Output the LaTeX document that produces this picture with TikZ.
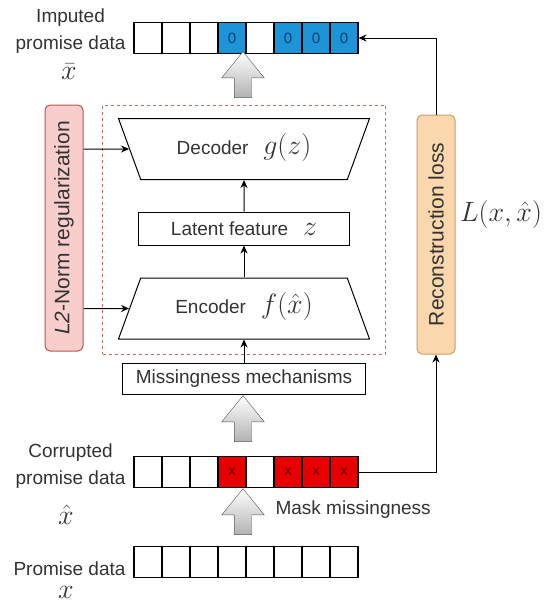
\documentclass[tikz,border=0pt]{standalone}
\usepackage{fix-cm}
\usepackage{amsmath}
\usepackage{fontspec}
\setmainfont{Liberation Sans}
\usepackage{tikz}
\usetikzlibrary{shapes.geometric,shapes.arrows,arrows.meta}

\definecolor{txt}{HTML}{333333}
\definecolor{cellblue}{HTML}{1B94D8}
\definecolor{cellred}{HTML}{E80000}
\definecolor{l2fill}{HTML}{F8CECC}
\definecolor{l2line}{HTML}{B85450}
\definecolor{recfill}{HTML}{FAD7AC}
\definecolor{recline}{HTML}{C9A063}
\definecolor{dashred}{HTML}{C86464}

\newcommand{\mth}[1]{{\fontsize{20.74}{24}\selectfont\scalebox{1.35}{$#1$}}}

\begin{document}
\begin{tikzpicture}[x=1pt,y=-1pt]
        \tikzstyle{every node} = [font=\fontsize{19}{27}\selectfont, text=txt]
        \tikzstyle{cell} = [draw=black, line width=1.1pt, minimum width=28, minimum height=31, inner sep=0, font=\fontsize{15}{16}\selectfont, text=black, text opacity=0.55]
        \tikzstyle{box} = [draw=black, line width=1pt]
        \tikzstyle{trap} = [box, trapezium, trapezium angle=70, trapezium stretches body, minimum width=251, text height=15, text depth=5, inner xsep=0, inner ysep=20.5]
        \tikzstyle{side} = [line width=1pt, rounded corners=5, rotate=90, minimum height=38, inner sep=0, font=\fontsize{21}{24}\selectfont]
        \tikzstyle{bigarrow} = [single arrow, draw=gray!70!black, top color=white, bottom color=gray!60, shape border rotate=90, minimum height=46, single arrow head extend=12.5, single arrow tip angle=78, inner sep=8.5]
        \tikzstyle{link} = [-{Stealth[length=8pt,width=7pt]}, line width=1pt]
        \useasboundingbox (0,0) rectangle (544,605);
        \foreach \i/\col/\lab in {1/white/{},2/white/{},3/white/{},4/cellblue/0,5/white/{},6/cellblue/0,7/cellblue/0,8/cellblue/0}
            \node[cell, fill=\col] (t\i) at ({120+28*\i},38) {\lab};
        \foreach \i/\col/\lab in {1/white/{},2/white/{},3/white/{},4/cellred/x,5/white/{},6/cellred/x,7/cellred/x,8/cellred/x}
            \node[cell, fill=\col] (c\i) at ({120+28*\i},472) {\lab};
        \foreach \i in {1,...,8}
            \node[cell] (p\i) at ({120+28*\i},562) {};
        \node[anchor=east, align=center] (imp) at (129,31) {Imputed\\promise data};
        \node (xbar) at (69,72) {\mth{\bar{x}}};
        \node[anchor=east, align=center] (cor) at (129,466) {Corrupted\\promise data};
        \node (xhat) at (66,515) {\mth{\hat{x}}};
        \node[anchor=east] (prom) at (129,569) {Promise data};
        \node (xin) at (66,592) {\mth{x}};
        \node[draw=dashred, dashed, line width=1pt, minimum width=283, minimum height=249] (ae) at (244,229.5) {};
        \node[trap, shape border rotate=180] (dec) at (244,149) {Decoder \enspace\mth{g(z)}};
        \node[box, minimum width=211, minimum height=33, inner sep=0] (lat) at (244,228.5) {Latent feature \enspace\mth{z}};
        \node[trap] (enc) at (244,308.5) {Encoder \enspace\mth{f(\hat{x})}};
        \node[box, minimum width=243, minimum height=31, inner sep=0] (mm) at (244,378.5) {Missingness mechanisms};
        \node[side, draw=l2line, fill=l2fill, minimum width=246] (l2) at (64,228) {\textit{L2}-Norm regularization};
        \node[side, draw=recline, fill=recfill, minimum width=239] (rec) at (436,234.5) {Reconstruction loss};
        \node (loss) at (501,214) {\mth{L(x,\hat{x})}};
        \node[anchor=west] (mask) at (272,510) {Mask missingness};
        \node[bigarrow] (up1) at (243,80) {};
        \node[bigarrow] (up2) at (243,424) {};
        \node[bigarrow] (up3) at (243,517) {};
        \foreach \from/\to in {mm/enc, enc/lat, lat/dec}
            \draw[link] (\from) -- (\to);
        \foreach \to in {dec, enc}
            \draw[link] (l2.south |- \to) -- (\to);
        \draw[link] (c8.east) -| (rec.west);
        \draw[link] (rec.east) |- (t8.east);
\end{tikzpicture}
\end{document}
